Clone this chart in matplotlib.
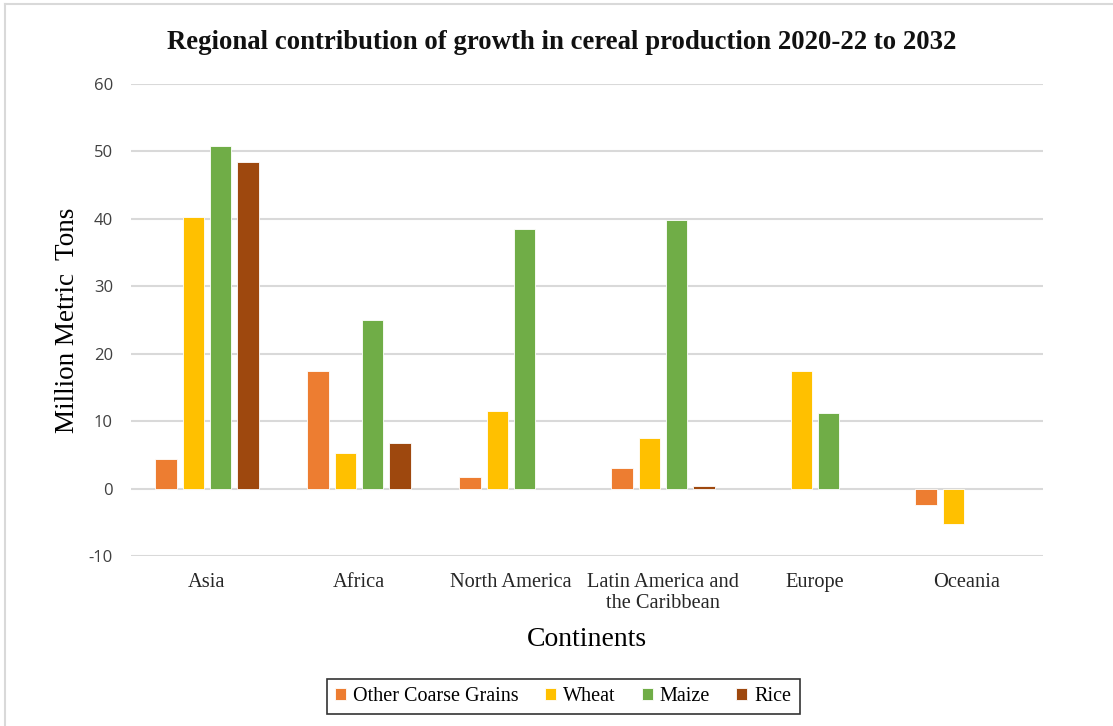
import numpy as np
import matplotlib.pyplot as plt
from matplotlib.lines import Line2D

plt.rcParams['axes.unicode_minus'] = False

continents = ['Asia', 'Africa', 'North America', 'Latin America and\nthe Caribbean', 'Europe', 'Oceania']
coarse_grains = [4.4, 17.4, 1.7, 3.0, np.nan, -2.5]
wheat = [40.2, 5.2, 11.5, 7.5, 17.4, -5.3]
maize = [50.8, 25.0, 38.5, 39.8, 11.2, np.nan]
rice = [48.5, 6.7, np.nan, 0.35, np.nan, np.nan]

series = [('Other Coarse Grains', coarse_grains, '#ED7D31'),
          ('Wheat', wheat, '#FFC000'),
          ('Maize', maize, '#70AD47'),
          ('Rice', rice, '#9E480E')]

serif = ['Liberation Serif', 'DejaVu Serif']
sans = ['Open Sans', 'Liberation Sans', 'DejaVu Sans']

fig = plt.figure(figsize=(11.13, 7.26), dpi=100)
ax = fig.add_axes([0.1177, 0.2342, 0.8194, 0.6501])

x = np.arange(len(continents))
step = 0.18
width = 0.14
for i, (name, vals, color) in enumerate(series):
    ax.bar(x + (i - 1.5) * step, vals, width, color=color, label=name,
           edgecolor='white', linewidth=0.6, zorder=3)

ax.set_xlim(-0.5, len(continents) - 0.5)
ax.set_ylim(-10, 60)
ax.set_yticks(range(-10, 61, 10))
ax.grid(axis='y', color='#D9D9D9', linewidth=1.5, zorder=0)
for s in ax.spines.values():
    s.set_visible(False)
ax.tick_params(length=0)
ax.tick_params(axis='y', pad=13, labelsize=12, labelcolor='#404040')
for lab in ax.get_yticklabels():
    lab.set_family(sans)
ax.set_xticks(x)
ax.set_xticklabels(continents, family=serif, fontsize=14.7, color='#262626', linespacing=1.15)
ax.tick_params(axis='x', pad=12)

ax.set_ylabel('Million Metric  Tons', family=serif, fontsize=19.5, labelpad=6)
ax.set_xlabel('Continents', family=serif, fontsize=20, labelpad=10)

fig.text(0.505, 0.942, 'Regional contribution of growth in cereal production 2020-22 to 2032',
         ha='center', va='center', family=serif, fontsize=19.3, fontweight='bold', color='#111111')

leg = fig.legend(loc='center', bbox_to_anchor=(0.506, 0.041), ncol=4, frameon=True,
                 prop={'family': serif, 'size': 14.5}, handlelength=0.55, handleheight=0.55,
                 handletextpad=0.35, columnspacing=1.3, borderpad=0.4, fancybox=False)
leg.get_frame().set_edgecolor('black')
leg.get_frame().set_linewidth(1.2)

# light frame around the chart area
fig.add_artist(Line2D([5 / 1113, 5 / 1113], [0, 1 - 4 / 726], transform=fig.transFigure,
                      color='#D9D9D9', linewidth=1.5))
fig.add_artist(Line2D([5 / 1113, 1], [1 - 4 / 726, 1 - 4 / 726], transform=fig.transFigure,
                      color='#D9D9D9', linewidth=1.5))

fig.savefig('out.png', dpi=100)
